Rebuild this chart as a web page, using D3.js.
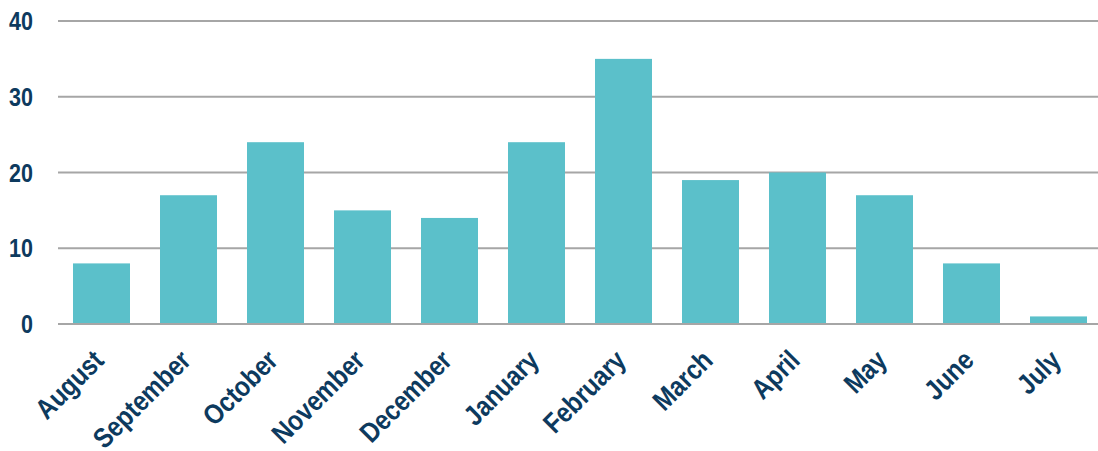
<!DOCTYPE html>
<html><head><meta charset="utf-8">
<script src="https://cdn.jsdelivr.net/npm/d3@7"></script>
<style>body{margin:0;background:#fff;} text{font-family:"Liberation Sans",Arial,sans-serif;font-weight:bold;fill:#0D3A5E;}</style>
</head><body>
<svg id="c" width="1098" height="451"></svg>
<script>
const categories = ["August","September","October","November","December","January","February","March","April","May","June","July"];
const values = [8,17,24,15,14,24,35,19,20,17,8,1];
const yTicks = [0,10,20,30,40];

const svg = d3.select("#c");
const x = d3.scaleBand().domain(categories).range([58, 1102]).paddingInner(0.345).paddingOuter(0.1725);
const y = d3.scaleLinear().domain([0,40]).range([324, 21]);

svg.append("g").selectAll("line").data(yTicks).join("line")
  .attr("x1",58).attr("x2",1098).attr("y1",d=>y(d)).attr("y2",d=>y(d))
  .attr("stroke","#A6A6A6").attr("stroke-width",2);

svg.append("g").selectAll("rect").data(values).join("rect")
  .attr("x",(d,i)=>x(categories[i])).attr("width",x.bandwidth())
  .attr("y",d=>y(d)).attr("height",d=>y(0)-y(d)).attr("fill","#5BC0CA");

svg.append("line").attr("x1",58).attr("x2",1098).attr("y1",y(0)).attr("y2",y(0)).attr("stroke","#A6A6A6").attr("stroke-width",2);

svg.append("g").selectAll("text").data(yTicks).join("text")
  .attr("text-anchor","end").style("font-size","25px")
  .attr("transform",d=>`translate(33,${y(d)}) scale(0.86,1)`)
  .attr("dy","0.36em").text(d=>d);

svg.append("g").selectAll("text").data(categories).join("text")
  .attr("text-anchor","end").style("font-size","28px")
  .attr("transform",d=>`translate(${x(d)+x.bandwidth()/2+4},362) rotate(-45) scale(0.86,1)`)
  .text(d=>d);
</script>
</body></html>
